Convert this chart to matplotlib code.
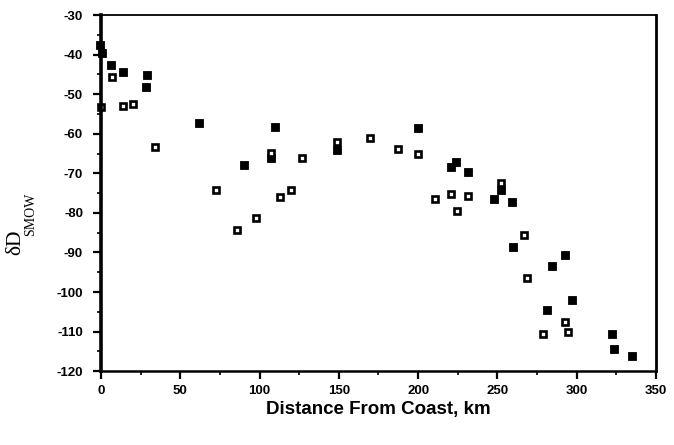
import matplotlib
matplotlib.use("Agg")
import matplotlib.pyplot as plt
from matplotlib.ticker import MultipleLocator

plt.rcParams["axes.unicode_minus"] = False

# filled squares
filled_x = [-0.5, 0.5, 6.3, 13.8, 28.9, 28.3, 61.6, 110.0, 107.5, 89.9,
            149.0, 200.0, 224.0, 220.5, 231.5, 252.5, 248.0, 259.5, 260.0,
            293.0, 284.5, 297.0, 281.5, 322.5, 323.5, 335.0]
filled_y = [-37.6, -39.6, -42.7, -44.4, -45.2, -48.2, -57.3, -58.3, -66.2, -68.0,
            -64.2, -58.6, -67.2, -68.5, -69.7, -74.3, -76.6, -77.3, -88.7,
            -90.7, -93.3, -102.1, -104.6, -110.5, -114.3, -116.3]

# open squares
open_x = [6.9, 0.0, 13.8, 20.1, 34.0, 72.3, 85.5, 97.5, 107.5, 112.6,
          120.0, 127.0, 149.0, 169.8, 187.4, 200.0, 210.5, 220.5, 231.5,
          224.5, 252.5, 267.0, 269.0, 293.0, 279.0, 294.5]
open_y = [-45.7, -53.3, -53.0, -52.5, -63.4, -74.3, -84.4, -81.4, -64.9, -76.1,
          -74.3, -66.2, -62.1, -61.1, -63.9, -65.2, -76.6, -75.3, -75.8,
          -79.6, -72.5, -85.7, -96.5, -107.7, -110.5, -110.2]

fig = plt.figure(figsize=(6.74, 4.45), dpi=100)
ax = fig.add_axes([0.150, 0.166, 0.823, 0.800])

ax.plot(filled_x, filled_y, ls="none", marker="s", ms=6.3, mfc="black",
        mec="black", mew=0.6, clip_on=False)
ax.plot(open_x, open_y, ls="none", marker="s", ms=4.8, mfc="white",
        mec="black", mew=1.9, clip_on=False)

ax.set_xlim(0, 350)
ax.set_ylim(-120, -30)
ax.xaxis.set_major_locator(MultipleLocator(50))
ax.xaxis.set_minor_locator(MultipleLocator(25))
ax.yaxis.set_major_locator(MultipleLocator(10))
ax.yaxis.set_minor_locator(MultipleLocator(5))

ax.tick_params(which="major", direction="out", length=6, width=1.6,
               labelsize=9.5)
ax.tick_params(which="minor", direction="out", length=3, width=1.2)
ax.tick_params(axis="x", which="major", pad=4)
ax.tick_params(axis="y", which="major", pad=7)

for lab in ax.get_xticklabels() + ax.get_yticklabels():
    lab.set_fontfamily("Liberation Sans")
    lab.set_fontweight("bold")

ax.spines["left"].set_linewidth(2.6)
ax.spines["bottom"].set_linewidth(1.8)
ax.spines["top"].set_linewidth(1.3)
ax.spines["right"].set_linewidth(2.0)

ax.set_xlabel("Distance From Coast, km", fontfamily="Liberation Sans",
              fontweight="bold", fontsize=13.5, labelpad=3)

fig.text(0.023, 0.456, "\u03b4D", rotation=90, ha="center", va="center",
         fontfamily="Liberation Serif", fontsize=15.5)
fig.text(0.045, 0.518, "SMOW", rotation=90, ha="center", va="center",
         fontfamily="Liberation Serif", fontsize=10)

fig.savefig("out.png", dpi=100)
